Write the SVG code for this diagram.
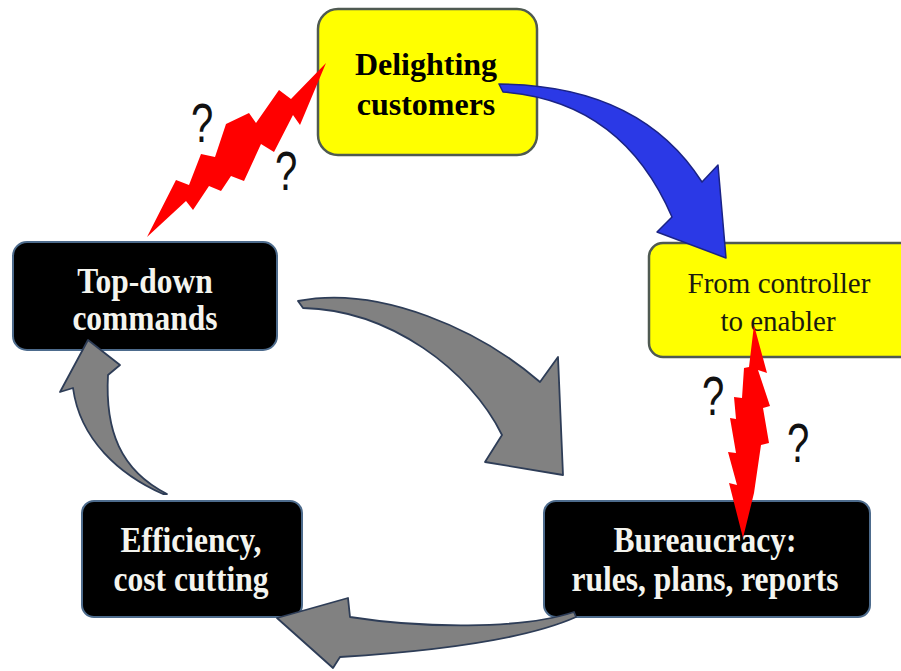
<svg xmlns="http://www.w3.org/2000/svg" width="901" height="671" viewBox="0 0 901 671">
<style>
.yel{fill:#ffff00;stroke:#4f5a52;stroke-width:2.5}
.blk{fill:#000;stroke:#4d6b8c;stroke-width:2}
.tb{font-family:"Liberation Serif","Times New Roman",serif;font-weight:bold;font-size:32px;text-anchor:middle}
.tw{font-family:"Liberation Serif","Times New Roman",serif;font-weight:bold;font-size:31.5px;text-anchor:middle;fill:#f4f4ee}
.tr{font-family:"Liberation Serif","Times New Roman",serif;font-size:29px;text-anchor:middle;fill:#1a1a10}
.gray{fill:#818181;stroke:#2e3d57;stroke-width:1.8;stroke-linejoin:round}
.blue{fill:#2b39e6;stroke:#1a2385;stroke-width:1.5;stroke-linejoin:round}
.bolt{fill:#ff0000}
.q{font-family:"Liberation Sans",Arial,sans-serif;font-size:40px;text-anchor:middle;fill:#111}
</style>
<rect width="901" height="671" fill="#ffffff"/>
<g id="node-delighting">
<rect class="yel" x="318" y="9" width="219" height="146" rx="20"/>
<text class="tb" x="426" y="75">Delighting</text>
<text class="tb" x="426" y="115">customers</text>
</g>
<g id="node-controller">
<rect class="yel" x="649" y="243" width="270" height="114" rx="14"/>
<text class="tr" x="779" y="293">From controller</text>
<text class="tr" x="778" y="331">to enabler</text>
</g>
<g id="node-topdown">
<rect class="blk" x="13" y="242" width="264" height="108" rx="14"/>
<text class="tw" transform="translate(145,293) scale(1,1.15)">Top-down</text>
<text class="tw" transform="translate(145,330) scale(1,1.15)">commands</text>
</g>
<g id="node-efficiency">
<rect class="blk" x="82" y="501" width="220" height="116" rx="12"/>
<text class="tw" transform="translate(191,552) scale(1,1.15)">Efficiency,</text>
<text class="tw" transform="translate(191,591) scale(1,1.15)">cost cutting</text>
</g>
<g id="node-bureaucracy">
<rect class="blk" x="544" y="501" width="326" height="116" rx="12"/>
<text class="tw" transform="translate(705,552) scale(1,1.15)">Bureaucracy:</text>
<text class="tw" transform="translate(705,591) scale(1,1.15)">rules, plans, reports</text>
</g>
<g id="connectors">
<path class="blue" d="M499,84 Q640,85 702,182 L718,165 L726,258 L657,232 L672,217 Q622,101 503,92 Z"/>
<path class="gray" d="M298,301 C380,285 480,330 540,382 L558,357 L563,475 L485,462 L502,435 C470,370 390,310 303,308 Z"/>
<path class="gray" d="M574,612 C520,630 420,628 350,617 L348,598 L277,618 L333,668 L340,657 C420,652 520,642 576,617 Z"/>
<path class="gray" d="M167,494 C120,470 105,430 108,375 L120,365 L88,340 L60,392 L73,388 C80,440 120,475 163,494 Z"/>
</g>
<g id="conflict-top">
<polygon class="bolt" points="147,237 176,180 189,185 201,154 215,157 226,124 249,113 256,123 279,90 291,99 326,63 300,125 293,115 274,152 261,144 244,181 231,176 221,191 209,186 193,210 186,201"/>
<text class="q" transform="translate(202,142) scale(1,1.4)">?</text>
<text class="q" transform="translate(286,190) scale(1,1.4)">?</text>
</g>
<g id="conflict-right">
<polygon class="bolt" points="754,325 767,373 758,370 770,406 763,408 769,443 761,445 754,493 743,538 729,483 737,485 728,452 736,453 730,418 736,419 734,397 742,398 744,368 749,367"/>
<text class="q" transform="translate(713,415) scale(1,1.4)">?</text>
<text class="q" transform="translate(798,462) scale(1,1.4)">?</text>
</g>
</svg>
